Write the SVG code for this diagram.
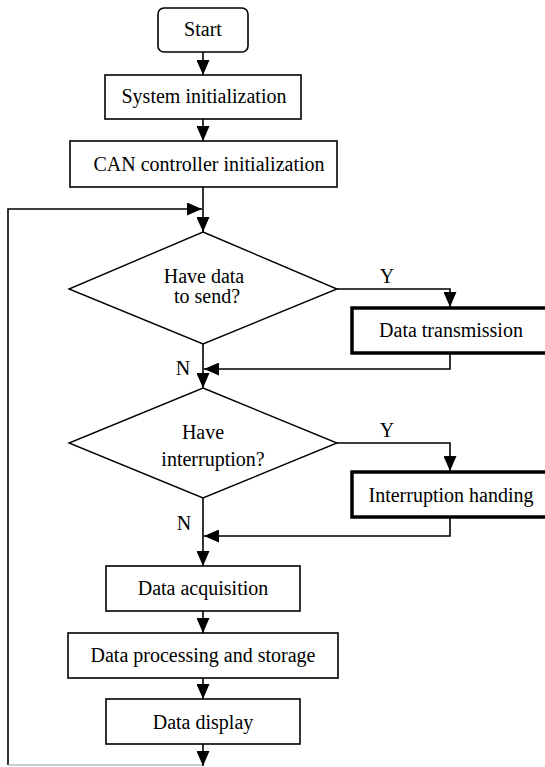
<svg xmlns="http://www.w3.org/2000/svg" width="545" height="767" viewBox="0 0 545 767">
  <style>
    .box { fill: #fff; stroke: #000; stroke-width: 1.6; }
    .thick { fill: #fff; stroke: #000; stroke-width: 3.5; }
    .dia { fill: #fff; stroke: #000; stroke-width: 1.4; }
    .lbl { font-family: "Liberation Serif", "Times New Roman", serif; font-size: 20px; fill: #000; text-anchor: middle; }
    .edge { fill: none; stroke: #000; stroke-width: 1.6; }
  </style>
  <defs>
    <marker id="arr" viewBox="0 0 15 13" refX="15" refY="6.5" markerWidth="15" markerHeight="13" markerUnits="userSpaceOnUse" orient="auto">
      <path d="M0,0 L15,6.5 L0,13 Z" fill="#000"/>
    </marker>
  </defs>
  <rect width="545" height="767" fill="#fff"/>

  <!-- connectors -->
  <g id="connectors">
    <path class="edge" d="M203,52 V75" marker-end="url(#arr)"/>
    <path class="edge" d="M203,119 V141" marker-end="url(#arr)"/>
    <path class="edge" d="M203,187 V232" marker-end="url(#arr)"/>
    <!-- loop back from the bottom to the top of the cycle -->
    <path class="edge" d="M8,765 V209 H202" marker-end="url(#arr)"/>
    <path d="M8,765 H203" fill="none" stroke="#999" stroke-width="1.2"/>
    <!-- first decision -->
    <path class="edge" d="M337,289 H450 V307" stroke-width="2.6" marker-end="url(#arr)"/>
    <path class="edge" d="M450,353 V369 H204" marker-end="url(#arr)"/>
    <path class="edge" d="M203,344 V388" marker-end="url(#arr)"/>
    <!-- second decision -->
    <path class="edge" d="M337,443 H450 V471" marker-end="url(#arr)"/>
    <path class="edge" d="M450,517 V536 H204" marker-end="url(#arr)"/>
    <path class="edge" d="M203,498 V566" marker-end="url(#arr)"/>
    <!-- processing chain -->
    <path class="edge" d="M203,611 V633" marker-end="url(#arr)"/>
    <path class="edge" d="M203,678 V699" marker-end="url(#arr)"/>
    <path class="edge" d="M203,744 V766" marker-end="url(#arr)"/>
    <!-- branch labels -->
    <text class="lbl" x="387" y="283">Y</text>
    <text class="lbl" x="183" y="375">N</text>
    <text class="lbl" x="387" y="437">Y</text>
    <text class="lbl" x="184" y="530">N</text>
  </g>

  <g id="start">
    <rect class="box" x="158" y="8" width="90" height="44" rx="6"/>
    <text class="lbl" x="203" y="36">Start</text>
  </g>

  <g id="sys-init">
    <rect class="box" x="105" y="75" width="196" height="44"/>
    <text class="lbl" x="204" y="103">System initialization</text>
  </g>

  <g id="can-init">
    <rect class="box" x="70" y="141" width="267" height="46"/>
    <text class="lbl" x="209" y="171">CAN controller initialization</text>
  </g>

  <g id="send-check">
    <polygon class="dia" points="203,232 337,289 203,344 69,289"/>
    <text class="lbl" x="204" y="283">Have data</text>
    <text class="lbl" x="207" y="303">to send?</text>
  </g>

  <g id="transmit">
    <rect class="thick" x="352" y="308" width="200" height="45"/>
    <text class="lbl" x="451" y="337">Data transmission</text>
  </g>

  <g id="irq-check">
    <polygon class="dia" points="203,388 337,443 203,498 69,443"/>
    <text class="lbl" x="203" y="439">Have</text>
    <text class="lbl" x="213" y="466">interruption?</text>
  </g>

  <g id="irq-handle">
    <rect class="thick" x="352" y="472" width="200" height="45"/>
    <text class="lbl" x="451" y="502">Interruption handing</text>
  </g>

  <g id="acquire">
    <rect class="box" x="106" y="566" width="194" height="45"/>
    <text class="lbl" x="203" y="595">Data acquisition</text>
  </g>

  <g id="process">
    <rect class="box" x="68" y="633" width="270" height="45"/>
    <text class="lbl" x="203" y="662">Data processing and storage</text>
  </g>

  <g id="display">
    <rect class="box" x="106" y="699" width="194" height="45"/>
    <text class="lbl" x="203" y="729">Data display</text>
  </g>
</svg>
